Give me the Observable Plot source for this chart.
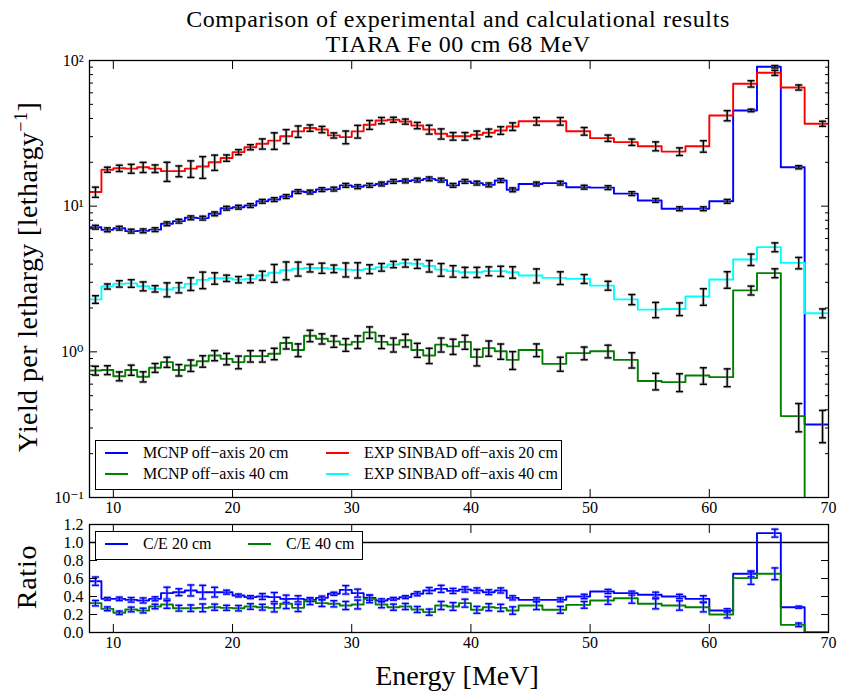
<!DOCTYPE html>
<html>
<head>
<meta charset="utf-8">
<script src="https://cdn.jsdelivr.net/npm/d3@7"></script>
<script src="https://cdn.jsdelivr.net/npm/@observablehq/plot@0.6"></script>
<style>
  body { margin: 0; background: #fff; }
  #chart { position: relative; width: 842px; height: 695px; font-family: "Liberation Serif", "DejaVu Serif", serif; color: #000; overflow: hidden; }
  #chart svg { position: absolute; left: 0; }
  .t { position: absolute; white-space: nowrap; line-height: 1; }
  .legend { position: absolute; background: #fff; border: 1.5px solid #000; box-sizing: border-box; }
  .item { position: absolute; white-space: nowrap; font-size: 16px; line-height: 1; }
  .item svg { position: absolute; }
</style>
</head>
<body>
<div id="chart"></div>
<script>
// Energy bin edges [MeV]: 1 MeV bins up to 44 MeV, 2 MeV bins above
const edges = [8,9,10,11,12,13,14,15,16,17,18,19,20,21,22,23,24,25,26,27,28,29,30,31,32,33,34,35,36,37,38,39,40,41,42,43,44,46,48,50,52,54,56,58,60,62,64,66,68,70];
// Energy points where the error bars sit
const points = [8.5,9.5,10.5,11.5,12.5,13.5,14.5,15.5,16.5,17.5,18.5,19.5,20.5,21.5,22.5,23.5,24.5,25.5,26.5,27.5,28.5,29.5,30.5,31.5,32.5,33.5,34.5,35.5,36.5,37.5,38.5,39.5,40.5,41.5,42.5,43.5,45.5,47.5,49.5,51.5,53.5,55.5,57.5,59.5,61.5,63.5,65.5,67.5,69.5];

// Yield per lethargy
const mcnp20 = [7.17,6.88,7.06,6.74,6.77,6.9,7.57,7.89,8.32,8.28,8.86,9.68,9.84,10.1,10.8,11.1,11.65,12.6,12.5,13.0,13.1,13.9,13.6,13.9,14.2,14.8,14.9,15.1,15.4,15.1,13.9,14.8,14.4,14.0,15.0,12.95,14.2,14.4,13.5,13.4,12.2,10.95,9.6,9.6,10.8,45.4,90.5,18.5,0.317];
const mcnp40 = [0.744,0.75,0.68,0.75,0.675,0.777,0.85,0.75,0.806,0.862,0.944,0.895,0.85,0.935,0.935,0.97,1.15,1.03,1.29,1.23,1.18,1.12,1.17,1.36,1.17,1.12,1.2,1.03,0.944,1.12,1.09,1.17,0.92,1.06,1.01,0.88,1.03,0.827,0.98,1.01,0.88,0.63,0.62,0.688,0.67,2.64,3.47,0.362,0.02];
const exp20 = [12.5,17.8,18.2,18.1,18.5,18.1,17.4,17.4,18.1,18.7,20.0,21.4,23.5,25.4,26.8,28.2,30.2,32.6,34.4,33.6,30.6,29.8,32.6,36.2,38.7,39.2,38.1,35.8,33.6,31.4,30.2,30.2,30.9,31.9,33.1,35.2,38.3,38.3,32.7,29.3,27.5,25.8,23.7,25.8,41.9,69.2,82.3,65.3,36.8];
const exp40 = [2.29,2.81,2.93,2.95,2.82,2.71,2.68,2.76,2.93,3.12,3.2,3.2,3.13,3.17,3.34,3.49,3.63,3.72,3.76,3.76,3.72,3.67,3.65,3.7,3.81,3.98,4.06,4.02,3.88,3.67,3.58,3.52,3.52,3.58,3.58,3.52,3.34,3.22,3.17,2.85,2.29,1.95,1.97,2.4,3.14,4.3,5.23,4.08,1.84];

// Relative uncertainties [%]
const errMcnp20 = [3,3,3,3,3,3,3,3,3,3,3,3,3,3,3,3,3,3,3,3,3,3,3,3,3,3,3,3,3,3,3,3,3,3,3,3,3,3,3,3,3,3,3,3,3,2,2,2.5,25];
const errMcnp40 = [7,7,7,8,8,7,8,9,9,9,8,9,10,9,9,9,9,10,9,8,9,10,10,9,10,11,10,11,12,11,12,11,13,12,12,14,10,11,10,10,12,13,14,13,14,7,7,22,0];
const errExp20 = [8,4,5,7,8,6,15,8.5,13,17,12,5,4,4,8,13,11,9,5,5,4,10,10,7,5,4,4,5,7,8,6,6,6,6,6,6,6,6,6,5,5,7,6,9,8,5,4,4,4];
const errExp40 = [6,4,5,6,7,5,11,8,10,13,9,5,5,6,7,14,14,11,6,8,6,11,12,7,6,5,6,7,9,10,9,8,8,7,8,9,11,10,7,7,8,12,10,13,13,9,7,9,7];

// Calculation / experiment ratios and their absolute uncertainties
const ce20 = [0.57,0.374,0.374,0.363,0.356,0.374,0.437,0.448,0.467,0.448,0.448,0.448,0.411,0.393,0.4,0.393,0.374,0.374,0.363,0.385,0.43,0.474,0.437,0.385,0.356,0.374,0.393,0.43,0.467,0.485,0.462,0.478,0.467,0.448,0.467,0.385,0.363,0.363,0.4,0.456,0.437,0.419,0.4,0.374,0.244,0.652,1.104,0.281,0.0];
const ce40 = [0.326,0.263,0.219,0.256,0.244,0.289,0.311,0.27,0.27,0.274,0.281,0.274,0.27,0.289,0.281,0.274,0.319,0.274,0.348,0.326,0.319,0.3,0.311,0.374,0.311,0.281,0.289,0.256,0.226,0.3,0.289,0.326,0.252,0.281,0.274,0.244,0.3,0.252,0.307,0.356,0.381,0.319,0.3,0.281,0.2,0.604,0.652,0.085,0.0];
const errCe20 = [0.046,0.015,0.019,0.025,0.028,0.022,0.066,0.038,0.061,0.076,0.054,0.022,0.016,0.016,0.032,0.051,0.041,0.034,0.018,0.019,0.017,0.047,0.044,0.027,0.018,0.015,0.016,0.022,0.033,0.039,0.028,0.029,0.028,0.027,0.028,0.023,0.022,0.022,0.024,0.023,0.022,0.029,0.024,0.034,0.02,0.033,0.044,0.011,0];
const errCe40 = [0.030,0.021,0.019,0.026,0.026,0.025,0.042,0.032,0.036,0.043,0.034,0.028,0.030,0.031,0.032,0.045,0.053,0.041,0.038,0.037,0.034,0.045,0.049,0.043,0.036,0.034,0.034,0.033,0.034,0.045,0.043,0.044,0.038,0.039,0.039,0.041,0.045,0.038,0.037,0.043,0.055,0.056,0.052,0.052,0.038,0.069,0.065,0.020,0];

const xTicks = [10,20,30,40,50,60,70];
const yMajor = [0.1,1,10,100];
const yMajorLabels = ["10\u207B\u00B9","10\u2070","10\u00B9","10\u00B2"];
const ratioTicks = [0,0.2,0.4,0.6,0.8,1.0,1.2];

const seriesTop = [
  {name:"MCNP off\u2212axis 20 cm", values: mcnp20, err: errMcnp20, color:"#0000ff"},
  {name:"MCNP off\u2212axis 40 cm", values: mcnp40, err: errMcnp40, color:"#008000"},
  {name:"EXP SINBAD off\u2212axis 20 cm", values: exp20, err: errExp20, color:"#ff0000"},
  {name:"EXP SINBAD off\u2212axis 40 cm", values: exp40, err: errExp40, color:"#00ffff"}
];
const seriesRatio = [
  {name:"C/E 20 cm", values: ce20, err: errCe20, color:"#0000ff"},
  {name:"C/E 40 cm", values: ce40, err: errCe40, color:"#008000"}
];

const FONT = '"Liberation Serif", "DejaVu Serif", serif';

// Histogram outline: value held from each left edge to the next edge
function steps(values) {
  const pts = values.map((v, i) => ({x: edges[i], y: v}));
  pts.push({x: edges[edges.length - 1], y: values[values.length - 1]});
  return pts;
}
function bars(values, err, relative) {
  return points.map((x, i) => {
    const e = relative ? values[i] * err[i] / 100 : err[i];
    return {x, lo: values[i] - e, hi: values[i] + e, e};
  }).filter(d => d.e > 0);
}
// Horizontal cap glyph for error bars
const cap = {draw(ctx, size) { const r = Math.sqrt(size / Math.PI); ctx.moveTo(-r, 0); ctx.lineTo(r, 0); }};

function errorMarks(rows, color, halo) {
  return [
    Plot.ruleX(rows, {x: "x", y1: "lo", y2: "hi", stroke: halo, strokeWidth: 3.2, strokeOpacity: 0.45, clip: true}),
    Plot.dot(rows, {x: "x", y: "lo", symbol: cap, r: 3.6, fill: "none", stroke: halo, strokeWidth: 3.2, strokeOpacity: 0.45, clip: true}),
    Plot.dot(rows, {x: "x", y: "hi", symbol: cap, r: 3.6, fill: "none", stroke: halo, strokeWidth: 3.2, strokeOpacity: 0.45, clip: true}),
    Plot.ruleX(rows, {x: "x", y1: "lo", y2: "hi", stroke: color, strokeWidth: 1.4, clip: true}),
    Plot.dot(rows, {x: "x", y: "lo", symbol: cap, r: 3.6, fill: "none", stroke: color, strokeWidth: 1.4, clip: true}),
    Plot.dot(rows, {x: "x", y: "hi", symbol: cap, r: 3.6, fill: "none", stroke: color, strokeWidth: 1.4, clip: true})
  ];
}

const chart = document.getElementById("chart");

// ---------- Upper panel: yields ----------
const minorY = [];
for (const d of [0.1, 1, 10]) for (let k = 2; k <= 9; k++) minorY.push(+(d * k).toPrecision(3));

const topMarks = [];
for (const s of seriesTop) {
  topMarks.push(Plot.line(steps(s.values), {x: "x", y: "y", curve: "step-after", stroke: s.color, strokeWidth: 1.9, clip: true}));
}
for (const s of seriesTop) {
  topMarks.push(...errorMarks(bars(s.values, s.err, true), "#000", "#888"));
}
topMarks.push(
  Plot.frame({stroke: "#000", strokeWidth: 1.3}),
  Plot.axisX({anchor: "bottom", ticks: xTicks, tickSize: -8, tickPadding: 12, tickFormat: d => String(d), label: null, fontSize: 16}),
  Plot.axisX({anchor: "top", ticks: xTicks, tickSize: -8, tickFormat: () => "", label: null}),
  Plot.axisY({anchor: "left", ticks: yMajor, tickSize: -8, tickPadding: 14, tickFormat: (d, i) => yMajorLabels[yMajor.indexOf(d)], label: null, fontSize: 16}),
  Plot.axisY({anchor: "left", ticks: minorY, tickSize: -4, tickFormat: () => "", label: null}),
  Plot.axisY({anchor: "right", ticks: yMajor, tickSize: -8, tickFormat: () => "", label: null}),
  Plot.axisY({anchor: "right", ticks: minorY, tickSize: -4, tickFormat: () => "", label: null})
);

const topPlot = Plot.plot({
  width: 842, height: 525,
  marginLeft: 89, marginRight: 14, marginTop: 60, marginBottom: 28,
  x: {domain: [8, 70]},
  y: {type: "log", domain: [0.1, 100]},
  style: {fontFamily: FONT, fontSize: "16px", color: "#000", background: "transparent", overflow: "visible"},
  marks: topMarks
});
topPlot.style.top = "0px";
chart.appendChild(topPlot);

// ---------- Lower panel: C/E ratio ----------
const ratioMarks = [Plot.ruleY([1], {stroke: "#000", strokeWidth: 1.3})];
for (const s of seriesRatio) {
  ratioMarks.push(Plot.line(steps(s.values), {x: "x", y: "y", curve: "step-after", stroke: s.color, strokeWidth: 1.9, clip: true}));
}
for (const s of seriesRatio) {
  ratioMarks.push(...errorMarks(bars(s.values, s.err, false), "#0000ff", "#7f7fff"));
}
ratioMarks.push(
  Plot.frame({stroke: "#000", strokeWidth: 1.3}),
  Plot.axisX({anchor: "bottom", ticks: xTicks, tickSize: -8, tickPadding: 12, tickFormat: d => String(d), label: null, fontSize: 16}),
  Plot.axisX({anchor: "top", ticks: xTicks, tickSize: -8, tickFormat: () => "", label: null}),
  Plot.axisY({anchor: "left", ticks: ratioTicks, tickSize: -8, tickPadding: 14, tickFormat: d3.format(".1f"), label: null, fontSize: 16}),
  Plot.axisY({anchor: "right", ticks: ratioTicks, tickSize: -8, tickFormat: () => "", label: null})
);
const ratioPlot = Plot.plot({
  width: 842, height: 162,
  marginLeft: 89, marginRight: 14, marginTop: 24, marginBottom: 30,
  x: {domain: [8, 70]},
  y: {domain: [0, 1.2]},
  style: {fontFamily: FONT, fontSize: "16px", color: "#000", background: "transparent", overflow: "visible"},
  marks: ratioMarks
});
ratioPlot.style.top = "500px";
chart.appendChild(ratioPlot);

// ---------- Text ----------
function addText(html, css) {
  const el = document.createElement("div");
  el.className = "t";
  el.innerHTML = html;
  Object.assign(el.style, css);
  chart.appendChild(el);
  return el;
}
addText("Comparison of experimental and calculational results", {left: "458px", top: "7px", transform: "translateX(-50%)", fontSize: "24px", letterSpacing: "0.6px"});
addText("TIARA Fe 00 cm 68 MeV", {left: "458px", top: "32px", transform: "translateX(-50%)", fontSize: "24px", letterSpacing: "0.6px"});
addText("Yield per lethargy [lethargy<sup style='font-size:0.65em;vertical-align:0.55em'>\u22121</sup>]", {left: "27px", top: "277px", transform: "translate(-50%,-50%) rotate(-90deg)", fontSize: "28px", letterSpacing: "0.4px"});
addText("Ratio", {left: "27px", top: "577px", transform: "translate(-50%,-50%) rotate(-90deg)", fontSize: "28px", letterSpacing: "0.8px"});
addText("Energy [MeV]", {left: "457px", top: "676px", transform: "translate(-50%,-50%)", fontSize: "28px"});

// ---------- Legends ----------
function legend(items, box, cols) {
  const el = document.createElement("div");
  el.className = "legend";
  Object.assign(el.style, {left: box.left + "px", top: box.top + "px", width: box.width + "px", height: box.height + "px"});
  items.forEach((s, i) => {
    const c = cols[i];
    const it = document.createElement("div");
    it.className = "item";
    Object.assign(it.style, {left: c.x + "px", top: c.y + "px"});
    it.innerHTML = `<svg width="24" height="4" style="left:0;top:-2px;overflow:visible"><line x1="0" x2="23" y1="2" y2="2" stroke="${s.color}" stroke-width="2"/></svg><span style="position:absolute;left:${c.tx}px;top:-8px">${s.name}</span>`;
    el.appendChild(it);
  });
  chart.appendChild(el);
}
legend(seriesTop, {left: 95, top: 440, width: 467, height: 50}, [
  {x: 9, y: 12, tx: 38}, {x: 9, y: 33, tx: 38}, {x: 230, y: 12, tx: 38}, {x: 230, y: 33, tx: 38}
]);
legend(seriesRatio, {left: 95, top: 531, width: 268, height: 29}, [
  {x: 9, y: 12, tx: 38}, {x: 152, y: 12, tx: 38}
]);
</script>
</body>
</html>
